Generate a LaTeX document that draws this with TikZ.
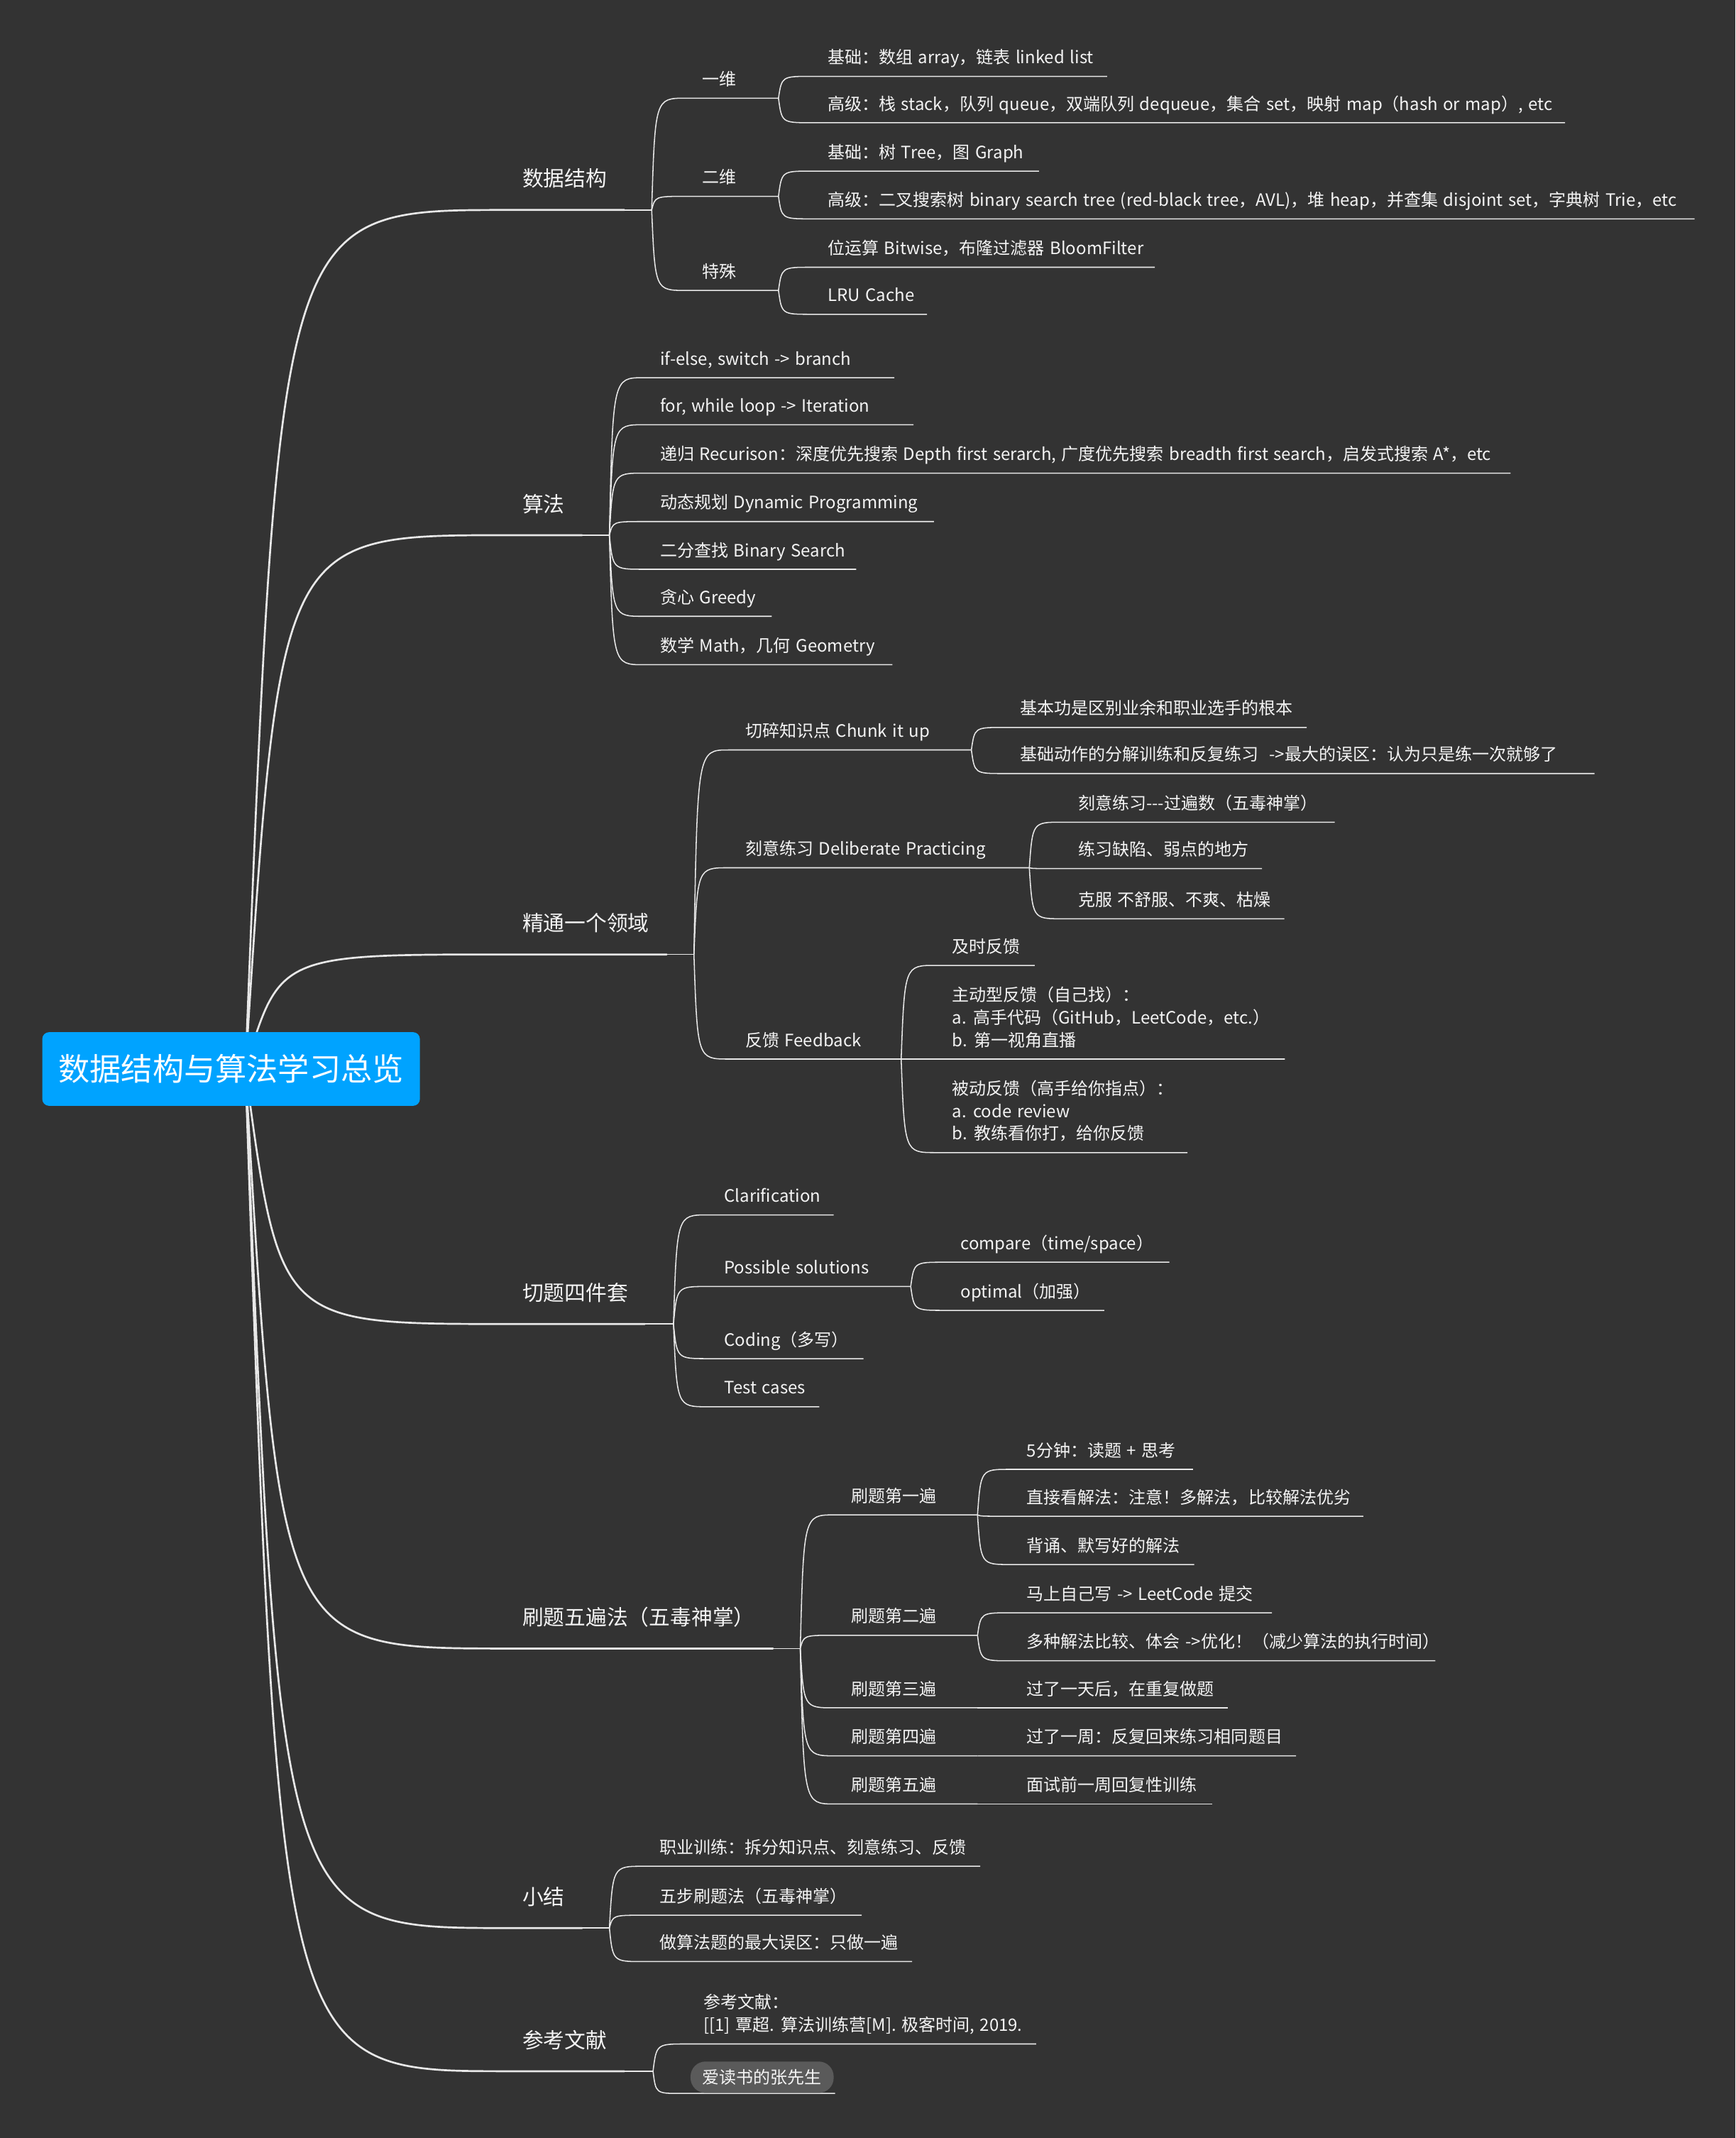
\documentclass[tikz,border=0pt]{standalone}
\usepackage{fontspec}
\setmainfont{Noto Sans CJK SC}[WordSpace=1.4]
\usetikzlibrary{calc}
\definecolor{bgc}{HTML}{333333}
\definecolor{linec}{HTML}{E8E8E8}
\definecolor{txtc}{HTML}{F4F4F4}
\definecolor{rootfill}{HTML}{00A3FF}
\definecolor{pillc}{HTML}{5A5A5A}
\tikzset{
  branch/.style={to path={.. controls ($(\tikztostart |- \tikztotarget)!#1!(\tikztotarget)$) .. (\tikztotarget)}},
  branch/.default=0.1,
  rootline/.style={draw=linec, line width=1.4pt, line cap=round},
  thinline/.style={draw=linec, line width=0.8pt},
  mainlbl/.style={anchor=base west, inner sep=0pt, text=txtc, font=\fontsize{15.5}{18}\selectfont},
  leaf/.style={anchor=base west, inner sep=0pt, text=txtc, font=\fontsize{12.5}{16.5}\selectfont},
  rootbox/.style={fill=rootfill, rounded corners=5pt, minimum width=277pt, minimum height=54pt, inner sep=0pt, text=white, font=\fontsize{23}{26}\selectfont},
  pill/.style={fill=pillc, rounded corners=11pt, minimum width=105pt, minimum height=23pt, inner sep=0pt, text=txtc, font=\fontsize{12.5}{14}\selectfont}
}
% main branch: name, yU, thick end, junction, text
\newcommand\mainbr[5]{%
  \coordinate (#1s) at (372,#2);
  \coordinate (#1t) at (#3,#2);
  \coordinate (#1j) at (#4,#2);
  \node[mainlbl] (#1) at (383,#2-17.1) {#5};
  \draw[rootline] (rootpt) to[branch=0.13] (#1s) -- (#1t);
  \draw[thinline] (#1t) -- (#1j);
}
% sub/leaf: name, parent junction, text x, yU, end x, text
\newcommand\subbr[6]{%
  \coordinate (#1s) at (#3-12,#4);
  \coordinate (#1j) at (#5,#4);
  \node[leaf] (#1) at (#3,#4-9.3) {#6};
  \draw[thinline] (#2) to[branch] (#1s) -- (#1j);
}
\begin{document}
\begin{tikzpicture}[x=1pt,y=-1pt]
\fill[bgc] (0,0) rectangle (1273,1568);
\useasboundingbox (0,0) rectangle (1273,1568);
\coordinate (rootpt) at (180,784);

% ---------- 数据结构
\mainbr{ds}{154}{458}{478}{数据结构}
\subbr{d1}{dsj}{515}{72}{571}{一维}
\subbr{d11}{d1j}{607}{56}{812}{基础：数组 array，链表 linked list}
\subbr{d12}{d1j}{607}{90}{1148}{高级：栈 stack，队列 queue，双端队列 dequeue，集合 set，映射 map（hash or map）, etc}
\subbr{d2}{dsj}{515}{144}{571}{二维}
\subbr{d21}{d2j}{607}{125.5}{762}{基础：树 Tree，图 Graph}
\subbr{d22}{d2j}{607}{160.5}{1243}{高级：二叉搜索树 binary search tree (red-black tree，AVL)，堆 heap，并查集 disjoint set，字典树 Trie，etc}
\subbr{d3}{dsj}{515}{213}{571}{特殊}
\subbr{d31}{d3j}{607}{196}{847}{位运算 Bitwise，布隆过滤器 BloomFilter}
\subbr{d32}{d3j}{607}{230.5}{680}{LRU Cache}

% ---------- 算法
\mainbr{al}{392.5}{427}{447}{算法}
\subbr{a1}{alj}{484}{277}{656}{if-else, switch -> branch}
\subbr{a2}{alj}{484}{311.5}{670}{for, while loop -> Iteration}
\subbr{a3}{alj}{484}{347}{1108}{递归 Recurison：深度优先搜索 Depth first serarch, 广度优先搜索 breadth first search，启发式搜索 A*，etc}
\subbr{a4}{alj}{484}{382.5}{685}{动态规划 Dynamic Programming}
\subbr{a5}{alj}{484}{417.5}{628}{二分查找 Binary Search}
\subbr{a6}{alj}{484}{452}{566}{贪心 Greedy}
\subbr{a7}{alj}{484}{487.5}{654.5}{数学 Math，几何 Geometry}

% ---------- 精通一个领域
\mainbr{ma}{700}{489}{509}{精通一个领域}
\subbr{m1}{maj}{546.5}{550}{712.5}{切碎知识点 Chunk it up}
\subbr{m11}{m1j}{748}{533.5}{958.5}{基本功是区别业余和职业选手的根本}
\subbr{m12}{m1j}{748}{567.3}{1169.5}{基础动作的分解训练和反复练习\ \ ->最大的误区：认为只是练一次就够了}
\subbr{m2}{maj}{546.5}{636.4}{755}{刻意练习 Deliberate Practicing}
\subbr{m21}{m2j}{790.6}{603}{979}{刻意练习-{}-{}-过遍数（五毒神掌）}
\subbr{m22}{m2j}{790.6}{637}{925.6}{练习缺陷、弱点的地方}
\subbr{m23}{m2j}{790.6}{673.8}{942}{克服 不舒服、不爽、枯燥}
\subbr{m3}{maj}{546.5}{776.7}{661}{反馈 Feedback}
\subbr{m31}{m3j}{698.3}{708}{759}{及时反馈}
\subbr{m32}{m3j}{698.3}{776.7}{942.5}{\begin{tabular}[b]{@{}l@{}}主动型反馈（自己找）：\\a. 高手代码（GitHub，LeetCode，etc.）\\b. 第一视角直播\end{tabular}}
\subbr{m33}{m3j}{698.3}{845.3}{871}{\begin{tabular}[b]{@{}l@{}}被动反馈（高手给你指点）：\\a. code review\\b. 教练看你打，给你反馈\end{tabular}}

% ---------- 切题四件套
\mainbr{qt}{971}{473}{494}{切题四件套}
\subbr{q1}{qtj}{531}{891}{611.5}{Clarification}
\subbr{q2}{qtj}{531}{943.5}{668}{Possible solutions}
\subbr{q21}{q2j}{704.4}{925.7}{857.7}{compare（time/space）}
\subbr{q22}{q2j}{704.4}{961}{810}{optimal（加强）}
\subbr{q3}{qtj}{531}{996.4}{633.4}{Coding（多写）}
\subbr{q4}{qtj}{531}{1031.7}{601}{Test cases}

% ---------- 刷题五遍法
\mainbr{sw}{1209}{567}{587}{刷题五遍法（五毒神掌）}
\subbr{s1}{swj}{624}{1111}{717}{刷题第一遍}
\subbr{s11}{s1j}{753}{1077.6}{875}{5分钟：读题 + 思考}
\subbr{s12}{s1j}{753}{1112}{1000}{直接看解法：注意！多解法，比较解法优劣}
\subbr{s13}{s1j}{753}{1147.4}{876}{背诵、默写好的解法}
\subbr{s2}{swj}{624}{1199.3}{717}{刷题第二遍}
\subbr{s21}{s2j}{753}{1182.8}{933}{马上自己写 -> LeetCode 提交}
\subbr{s22}{s2j}{753}{1218}{1052.8}{多种解法比较、体会 ->优化！（减少算法的执行时间）}
\subbr{s3}{swj}{624}{1252.5}{717}{刷题第三遍}
\subbr{s31}{s3j}{753}{1252.5}{900.4}{过了一天后，在重复做题}
\subbr{s4}{swj}{624}{1287.7}{717}{刷题第四遍}
\subbr{s41}{s4j}{753}{1287.7}{950.7}{过了一周：反复回来练习相同题目}
\subbr{s5}{swj}{624}{1323}{717}{刷题第五遍}
\subbr{s51}{s5j}{753}{1323}{889}{面试前一周回复性训练}

% ---------- 小结
\mainbr{xj}{1414}{427}{447}{小结}
\subbr{x1}{xjj}{483.7}{1368.7}{719}{职业训练：拆分知识点、刻意练习、反馈}
\subbr{x2}{xjj}{483.7}{1404.6}{632}{五步刷题法（五毒神掌）}
\subbr{x3}{xjj}{483.7}{1438.6}{669}{做算法题的最大误区：只做一遍}

% ---------- 参考文献
\mainbr{rf}{1519}{458}{479}{参考文献}
\subbr{r1}{rfj}{515.8}{1499}{760}{\begin{tabular}[b]{@{}l@{}}参考文献：\\{}[[1] 覃超. 算法训练营[M]. 极客时间, 2019.\end{tabular}}
\coordinate (r2s) at (499,1535.3);
\coordinate (r2j) at (612.5,1535.3);
\draw[thinline] (rfj) to[branch] (r2s) -- (r2j);
\node[pill] (r2) at (559,1523.4) {爱读书的张先生};

% ---------- root
\node[rootbox] (root) at (169.5,784) {数据结构与算法学习总览};
\end{tikzpicture}
\end{document}
